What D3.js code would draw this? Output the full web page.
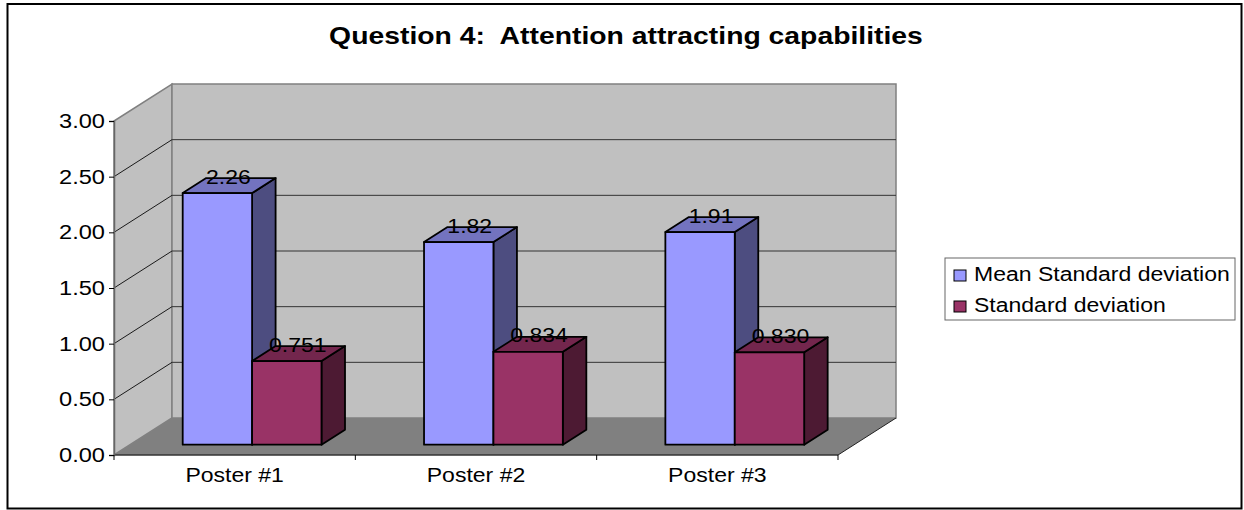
<!DOCTYPE html>
<html>
<head>
<meta charset="utf-8">
<script src="https://cdn.jsdelivr.net/npm/d3@7/dist/d3.min.js"></script>
<style>
  html, body { margin: 0; padding: 0; background: #fff; }
  text { font-family: "Liberation Sans", Arial, sans-serif; fill: #000; white-space: pre; }
</style>
</head>
<body>
<div id="chart_area"></div>
<script>
// chart values
var posters = ["Poster #1", "Poster #2", "Poster #3"];
var seriesNames = ["Mean Standard deviation", "Standard deviation"];
var meanValues = [2.26, 1.82, 1.91];
var sdValues = [0.751, 0.834, 0.830];
var yTicks = [0, 0.5, 1, 1.5, 2, 2.5, 3];
var titleText = "Question 4:  Attention attracting capabilities";

var width = 1244, height = 510;

// front plane of the fake 3d box
var plot = { left: 114, right: 838, top: 121, bottom: 455 };
var depth = { x: 58, y: 37 };       // wall depth
var barDepth = { x: 23.5, y: 15 };  // bar depth
var barLift = 10.3;                 // bars stand a little back from the front edge

var x = d3.scaleBand().domain(posters).range([plot.left, plot.right]);
var inner = d3.scaleBand().domain(seriesNames).range([68.7, 207.5]);
var y = d3.scaleLinear().domain([0, 3]).range([plot.bottom, plot.top]);

var colors = d3.scaleOrdinal().domain(seriesNames).range(["#9999ff", "#993366"]);
var topColors = d3.scaleOrdinal().domain(seriesNames).range(["#7373bf", "#73264d"]);
var sideColors = d3.scaleOrdinal().domain(seriesNames).range(["#4d4d80", "#4d1a33"]);

var svg = d3.select("#chart_area").append("svg")
    .attr("width", width)
    .attr("height", height)
    .style("display", "block");

// the picture's text is a bit wider than the font
function stretch(sel, k) {
    sel.each(function () {
        var t = d3.select(this);
        t.attr("lengthAdjust", "spacingAndGlyphs")
            .attr("textLength", this.getComputedTextLength() * (k || 1.14));
    });
}

// outer frame
svg.append("rect")
    .attr("x", 7.5).attr("y", 4)
    .attr("width", 1234).attr("height", 504.5)
    .attr("fill", "#fff")
    .attr("stroke", "#000")
    .attr("stroke-width", 2);

// title
svg.append("text")
    .attr("x", 626).attr("y", 44)
    .attr("text-anchor", "middle")
    .attr("font-size", 24)
    .attr("font-weight", "bold")
    .text(titleText)
    .call(stretch, 1.18);

function pts(a) { return a.map(function (p) { return p.join(","); }).join(" "); }

var walls = svg.append("g");

// floor
walls.append("polygon")
    .attr("points", pts([
        [plot.left, plot.bottom], [plot.right, plot.bottom],
        [plot.right + depth.x, plot.bottom - depth.y], [plot.left + depth.x, plot.bottom - depth.y]]))
    .attr("fill", "#808080");

// side wall
walls.append("polygon")
    .attr("points", pts([
        [plot.left, plot.bottom], [plot.left, plot.top],
        [plot.left + depth.x, plot.top - depth.y], [plot.left + depth.x, plot.bottom - depth.y]]))
    .attr("fill", "#c0c0c0")
    .attr("stroke", "#808080")
    .attr("stroke-width", 1.5);

// back wall
walls.append("rect")
    .attr("x", plot.left + depth.x).attr("y", plot.top - depth.y)
    .attr("width", plot.right - plot.left)
    .attr("height", plot.bottom - plot.top)
    .attr("fill", "#c0c0c0")
    .attr("stroke", "#808080")
    .attr("stroke-width", 1.5);

// grid lines, along the side wall and across the back
var gridTicks = yTicks.slice(1, -1);
walls.selectAll(".grid-side").data(gridTicks).enter().append("line")
    .attr("x1", plot.left).attr("y1", function (d) { return y(d); })
    .attr("x2", plot.left + depth.x).attr("y2", function (d) { return y(d) - depth.y; })
    .attr("stroke", "#1a1a1a");
walls.selectAll(".grid-back").data(gridTicks).enter().append("line")
    .attr("x1", plot.left + depth.x).attr("y1", function (d) { return y(d) - depth.y; })
    .attr("x2", plot.right + depth.x).attr("y2", function (d) { return y(d) - depth.y; })
    .attr("stroke", "#333");

// floor front edges
walls.append("line")
    .attr("x1", plot.left).attr("y1", plot.bottom)
    .attr("x2", plot.right).attr("y2", plot.bottom)
    .attr("stroke", "#333").attr("stroke-width", 1.5);
walls.append("line")
    .attr("x1", plot.right).attr("y1", plot.bottom)
    .attr("x2", plot.right + depth.x).attr("y2", plot.bottom - depth.y)
    .attr("stroke", "#222");

// y axis
var yAxis = svg.append("g")
    .attr("transform", "translate(" + plot.left + ",0)")
    .call(d3.axisLeft(y).tickValues(yTicks).tickSize(5).tickPadding(4).tickFormat(d3.format(".2f")));
yAxis.select(".domain").attr("stroke", "#666").attr("stroke-width", 1.5);
yAxis.selectAll("text").attr("font-size", 20).attr("font-family", null).call(stretch, 1.18);

// x axis, the ticks sit between the categories
var xAxis = svg.append("g")
    .attr("transform", "translate(0," + plot.bottom + ")")
    .call(d3.axisBottom(x).tickSize(0).tickPadding(13));
xAxis.select(".domain").remove();
xAxis.selectAll("text").attr("font-size", 20).attr("font-family", null).call(stretch, 1.15);
svg.selectAll(".x-tick").data([posters[0]].concat(posters)).enter().append("line")
    .attr("x1", function (d, i) { return i === 0 ? x(d) : x(d) + x.step(); })
    .attr("x2", function (d, i) { return i === 0 ? x(d) : x(d) + x.step(); })
    .attr("y1", plot.bottom).attr("y2", plot.bottom + 5)
    .attr("stroke", "#000");

// bars
var bars = [];
posters.forEach(function (p, i) {
    bars.push({ poster: p, series: seriesNames[0], value: meanValues[i], label: d3.format(".2f")(meanValues[i]) });
    bars.push({ poster: p, series: seriesNames[1], value: sdValues[i], label: d3.format(".3f")(sdValues[i]) });
});

function barLeft(d) { return x(d.poster) + inner(d.series); }
function barTop(d) { return y(d.value) - barLift; }
var barBase = y(0) - barLift;

var barG = svg.selectAll(".bar").data(bars).enter().append("g")
    .attr("class", "bar")
    .attr("stroke", "#000")
    .attr("stroke-width", 1.8)
    .attr("stroke-linejoin", "round");

barG.append("polygon")
    .attr("fill", function (d) { return sideColors(d.series); })
    .attr("points", function (d) {
        var r = barLeft(d) + inner.bandwidth();
        return pts([[r, barBase], [r, barTop(d)], [r + barDepth.x, barTop(d) - barDepth.y], [r + barDepth.x, barBase - barDepth.y]]);
    });
barG.append("polygon")
    .attr("fill", function (d) { return topColors(d.series); })
    .attr("points", function (d) {
        var l = barLeft(d), r = l + inner.bandwidth(), t = barTop(d);
        return pts([[l, t], [r, t], [r + barDepth.x, t - barDepth.y], [l + barDepth.x, t - barDepth.y]]);
    });
barG.append("rect")
    .attr("x", barLeft)
    .attr("y", barTop)
    .attr("width", inner.bandwidth())
    .attr("height", function (d) { return barBase - barTop(d); })
    .attr("fill", function (d) { return colors(d.series); });

// value labels go over every bar
svg.selectAll(".value-label").data(bars).enter().append("text")
    .attr("class", "value-label")
    .attr("x", function (d) { return barLeft(d) + inner.bandwidth() / 2 + 11; })
    .attr("y", function (d) { return barTop(d) - 9.5; })
    .attr("text-anchor", "middle")
    .attr("font-size", 20)
    .text(function (d) { return d.label; })
    .call(stretch, 1.15);

// legend
var legend = svg.append("g");
legend.append("rect")
    .attr("x", 945).attr("y", 258)
    .attr("width", 290).attr("height", 62)
    .attr("fill", "#fff")
    .attr("stroke", "#666")
    .attr("stroke-width", 1);
var legendY = d3.scalePoint().domain(seriesNames).range([281, 312]);
var legendItem = legend.selectAll(".item").data(seriesNames).enter().append("g").attr("class", "item");
legendItem.append("rect")
    .attr("x", 954)
    .attr("y", function (d) { return legendY(d) - 11; })
    .attr("width", 12).attr("height", 11)
    .attr("fill", function (d) { return colors(d); })
    .attr("stroke", "#000");
legendItem.append("text")
    .attr("x", 974)
    .attr("y", function (d) { return legendY(d); })
    .attr("font-size", 20)
    .text(function (d) { return d; })
    .call(stretch, 1.15);
</script>
</body>
</html>
